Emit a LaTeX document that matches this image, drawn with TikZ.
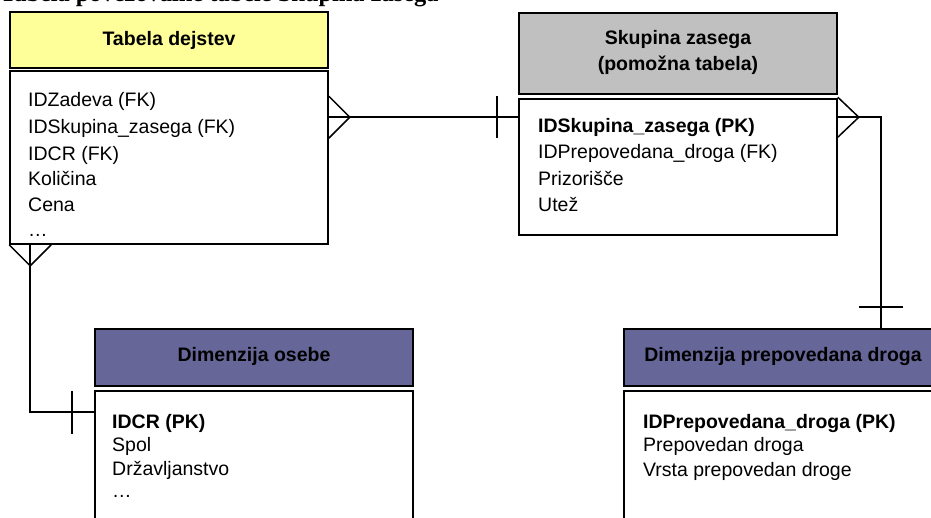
\documentclass[tikz,border=0pt]{standalone}
\usepackage{fontspec}
\setmainfont{Liberation Sans}
\newfontfamily\titlefont{Liberation Serif}
\usetikzlibrary{calc}

\definecolor{hdryellow}{HTML}{FFFF99}
\definecolor{hdrgrey}{HTML}{C0C0C0}
\definecolor{hdrpurple}{HTML}{666699}

\tikzset{
  er/.style={draw=black, line width=1.6pt, inner sep=0pt, minimum width=318pt},
  hdr/.style={er},
  tblbody/.style={er, fill=white},
  hdrtext/.style={anchor=base, inner sep=0pt, font=\fontsize{19.5}{23}\selectfont\bfseries},
  field/.style={anchor=base west, inner sep=0pt, font=\fontsize{19.5}{23}\selectfont},
  keyfield/.style={field, font=\fontsize{19.5}{23}\selectfont\bfseries},
  link/.style={draw=black, line width=1.5pt}
}

\begin{document}
\begin{tikzpicture}[x=1pt, y=-1pt]
\useasboundingbox (0,0) rectangle (931,517);
\begin{scope}
\clip (0,0) rectangle (931,517);

% caption line above the diagram
\node[anchor=base west, inner sep=0pt, font=\titlefont\fontsize{24.4}{28}\selectfont\bfseries] (caption) at (0,1.5) {Tabela povezovalne tabele Skupina zasega};

% fact table
\node[hdr, fill=hdryellow, minimum height=56pt] (dejH) at (169,40) {};
\node[hdrtext] (dejT) at (169,45) {Tabela dejstev};
\node[tblbody, minimum height=173pt] (dejB) at (169,157.5) {};
\node[field] (dej1) at (28,106.7) {IDZadeva (FK)};
\node[field] (dej2) at (28,133.3) {IDSkupina\_zasega (FK)};
\node[field] (dej3) at (28,160) {IDCR (FK)};
\node[field] (dej4) at (28,185.5) {Količina};
\node[field] (dej5) at (28,211.7) {Cena};
\node[field] (dej6) at (28,236.7) {\dots};

% helper table
\node[hdr, fill=hdrgrey, minimum height=81pt] (skH) at (678,53.5) {};
\node[hdrtext] (skT1) at (678,44.3) {Skupina zasega};
\node[hdrtext] (skT2) at (678,70.3) {(pomožna tabela)};
\node[tblbody, minimum height=136pt] (skB) at (678,167) {};
\node[keyfield] (sk1) at (538,132) {IDSkupina\_zasega (PK)};
\node[field] (sk2) at (538,158.3) {IDPrepovedana\_droga (FK)};
\node[field] (sk3) at (538,185) {Prizorišče};
\node[field] (sk4) at (538,211.5) {Utež};

% person dimension
\node[hdr, fill=hdrpurple, minimum height=57pt] (doH) at (254,357.5) {};
\node[hdrtext] (doT) at (254,361.7) {Dimenzija osebe};
\node[tblbody, minimum height=139pt] (doB) at (254,460.5) {};
\node[keyfield] (do1) at (112,428) {IDCR (PK)};
\node[field] (do2) at (112,451) {Spol};
\node[field] (do3) at (112,475) {Državljanstvo};
\node[field] (do4) at (112,497) {\dots};

% drug dimension
\node[hdr, fill=hdrpurple, minimum height=57pt] (ppH) at (783,357.5) {};
\node[hdrtext] (ppT) at (783,361.7) {Dimenzija prepovedana droga};
\node[tblbody, minimum height=139pt] (ppB) at (783,460.5) {};
\node[keyfield] (pp1) at (643,428) {IDPrepovedana\_droga (PK)};
\node[field] (pp2) at (643,451) {Prepovedan droga};
\node[field] (pp3) at (643,476.5) {Vrsta prepovedan droge};

% fact table (many) -- helper table (one)
\coordinate (c1a) at ($(dejB.north east)+(0,47)$);
\coordinate (c1b) at (c1a -| skB.west);
\draw[link] (c1a) -- (c1b);
\draw[link] ($(c1a)+(0,-21)$) -- ($(c1a)+(21,0)$) -- ($(c1a)+(0,21)$);
\draw[link] ($(c1b)+(-21,-21)$) -- ($(c1b)+(-21,21)$);

% helper table (many) -- drug dimension (one)
\coordinate (c2a) at ($(skB.north east)+(0,19)$);
\coordinate (c2b) at ($(c2a)+(43,0)$);
\coordinate (c2c) at (c2b |- ppH.north);
\draw[link] (c2a) -- (c2b) -- (c2c);
\draw[link] ($(c2a)+(0,-20)$) -- ($(c2a)+(21,0)$) -- ($(c2a)+(0,20)$);
\draw[link] ($(c2c)+(-22,-21)$) -- ($(c2c)+(22,-21)$);

% fact table (many) -- person dimension (one)
\coordinate (c3a) at ($(dejB.south west)+(21,0)$);
\coordinate (c3c) at ($(doB.north west)+(0,22)$);
\coordinate (c3b) at (c3a |- c3c);
\draw[link] (c3a) -- (c3b) -- (c3c);
\draw[link] (dejB.south west) -- ($(c3a)+(0,21)$) -- ($(dejB.south west)+(42,0)$);
\draw[link] ($(c3c)+(-22,-21)$) -- ($(c3c)+(-22,22)$);
\end{scope}
\end{tikzpicture}
\end{document}
